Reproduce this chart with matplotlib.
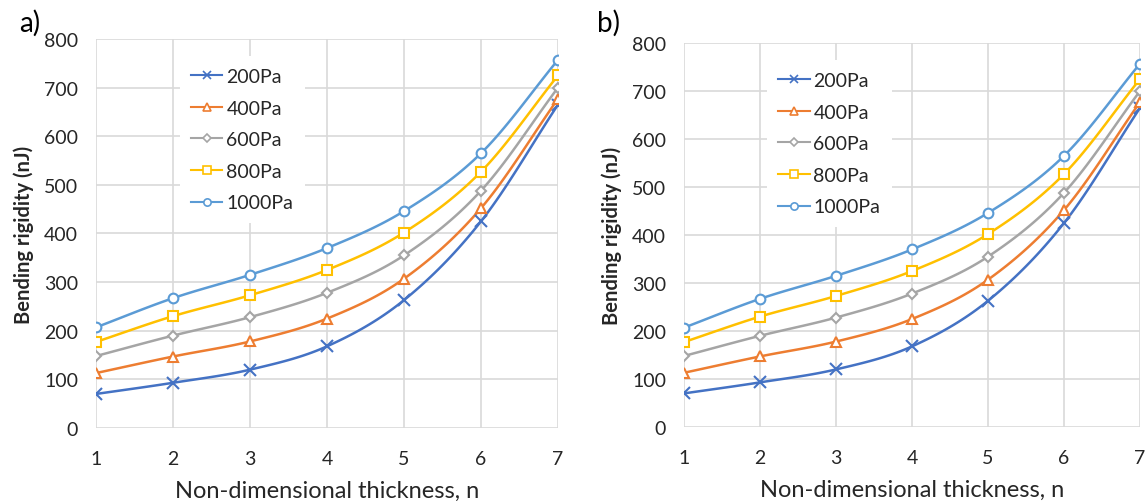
import numpy as np
import matplotlib
matplotlib.use("Agg")
import matplotlib.pyplot as plt

n = [1, 2, 3, 4, 5, 6, 7]
labels = ["200Pa", "400Pa", "600Pa", "800Pa", "1000Pa"]
p200 = [70, 93, 120, 168, 263, 425, 665]
p400 = [113, 147, 178, 225, 307, 452, 677]
p600 = [148, 190, 228, 278, 355, 488, 700]
p800 = [177, 230, 273, 325, 402, 527, 725]
p1000 = [207, 267, 315, 370, 446, 565, 757]
series_a = [p200, p400, p600, p800, p1000]
series_b = [p200, p400, p600, p800, p1000]
colors = ["#4472C4", "#ED7D31", "#A5A5A5", "#FFC000", "#5B9BD5"]
markers = ["x", "^", "D", "s", "o"]
msizes = [8, 7, 5, 7, 7]

FONT = "Lato"
plt.rcParams['font.family'] = [FONT, 'DejaVu Sans']


def smooth(x, y, k=20):
    # Catmull-Rom style smoothing between the data points (like Excel "smoothed line")
    x = np.asarray(x, float)
    y = np.asarray(y, float)
    P = np.column_stack([x, y])
    P = np.vstack([2 * P[0] - P[1], P, 2 * P[-1] - P[-2]])
    out = []
    t = np.linspace(0, 1, k, endpoint=False)
    for i in range(1, len(P) - 2):
        p0, p1, p2, p3 = P[i - 1], P[i], P[i + 1], P[i + 2]
        c1 = p1 + (p2 - p0) / 6
        c2 = p2 - (p3 - p1) / 6
        tt = t[:, None]
        pts = ((1 - tt) ** 3) * p1 + 3 * ((1 - tt) ** 2) * tt * c1 + 3 * (1 - tt) * tt ** 2 * c2 + tt ** 3 * p2
        out.append(pts)
    out.append(P[-2][None, :])
    out = np.vstack(out)
    return out[:, 0], out[:, 1]


fig = plt.figure(figsize=(11.46, 5.02), dpi=100)
ax1 = fig.add_axes([0.0838, 0.1454, 0.4031, 0.775])
ax2 = fig.add_axes([0.5969, 0.1474, 0.3979, 0.765])

for ax, data, legpos, tag, tagx in [(ax1, series_a, (0.16, 0.98), "a)", 0.017),
                                     (ax2, series_b, (0.16, 0.98), "b)", 0.521)]:
    handles = []
    for ys, c, m, ms, lab in zip(data, colors, markers, msizes, labels):
        xs, yy = smooth(n, ys)
        ax.plot(xs, yy, color=c, lw=1.8, zorder=3)
        ax.plot(n, ys, ls="none", marker=m, ms=ms, mfc="white" if m != "x" else c,
                mec=c, mew=1.5, zorder=4)
        h, = ax.plot([], [], color=c, lw=1.5, marker=m, ms=ms * 0.75,
                     mfc="white" if m != "x" else c, mec=c, mew=1.2, label=lab)
        handles.append(h)
    ax.set_xlim(1, 7)
    ax.set_ylim(0, 800)
    ax.set_xticks(n)
    ax.set_yticks(range(0, 801, 100))
    ax.grid(True, color="#D9D9D9", lw=1.2, zorder=0)
    ax.set_axisbelow(True)
    for s in ax.spines.values():
        s.set_visible(False)
    ax.tick_params(length=0, labelsize=14, colors="#262626", pad=13)
    ax.tick_params(axis="x", pad=16)
    ax.set_xlabel("Non-dimensional thickness, n", fontsize=17, color="#262626", labelpad=9)
    ax.set_ylabel("Bending rigidity (nJ)", fontsize=14.5, fontweight="bold", color="#262626", labelpad=7)
    leg = ax.legend(handles=handles, loc="upper left", bbox_to_anchor=legpos, frameon=True,
                    fontsize=14, handlelength=1.6, handletextpad=0.2, labelspacing=0.75,
                    borderpad=0.6, facecolor="white", edgecolor="white", framealpha=1)
    leg.get_frame().set_linewidth(0)
    leg.set_zorder(5)
    for t in leg.get_texts():
        t.set_color("#262626")
    fig.text(tagx, 0.954, tag, fontsize=20, color="black", va="center", ha="left")

fig.savefig("out.png", dpi=100)
